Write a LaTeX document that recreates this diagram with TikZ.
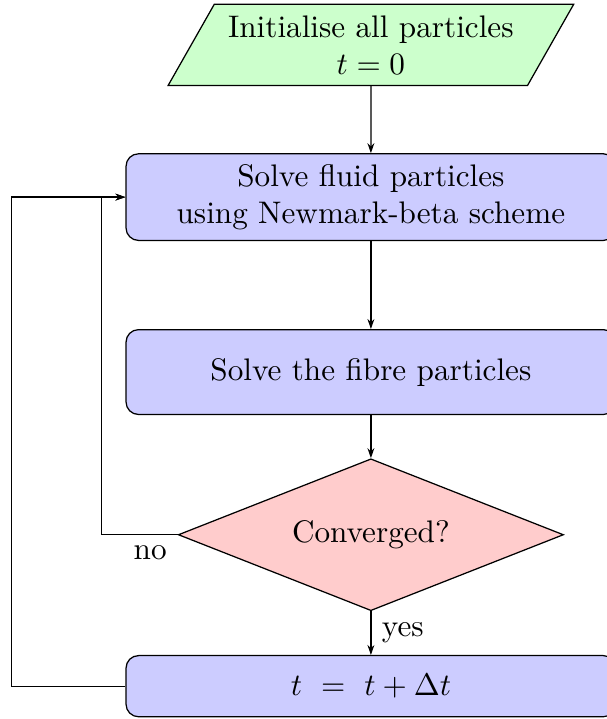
\documentclass[tikz,border=0pt]{standalone}
\usetikzlibrary{positioning,arrows.meta,shapes.geometric}
\begin{document}
\begin{tikzpicture}[
    node distance=28.2pt,
    io/.style={trapezium,trapezium left angle=60,trapezium right angle=120,
               trapezium stretches body,draw,minimum width=130pt,
               minimum height=26pt,align=center,fill=green!20},
    process/.style={rectangle,rounded corners,draw,
                  minimum width=157pt,minimum height=27.2pt,
                  align=center,fill=blue!20},
    decision/.style={diamond,draw,aspect=2.5,minimum width=123.5pt,
                  minimum height=48.7pt,align=center,fill=red!20},
    arrow/.style={-{Stealth[length=3.2pt,width=2.2pt]}}
]
\useasboundingbox (-118.9pt,14.4pt) rectangle (75.6pt,-216.1pt);
\node[io] (init) at (0,0) {Initialise all particles\\$t=0$};
\node[process,below=21.5pt of init] (fluid) {Solve fluid particles\\using Newmark-beta scheme};
\node[process,below=of fluid] (fibre) {Solve the fibre particles};
\node[decision,below=13.8pt of fibre] (conv) {Converged?};
\node[process,below=14pt of conv,minimum height=19.6pt] (tupd) {$t \ = \ t + \Delta t$};
\draw[arrow] (init) -- (fluid);
\draw[arrow] (fluid) -- (fibre);
\draw[arrow] (fibre) -- (conv);
\draw[arrow] (conv) -- node[right] {yes} (tupd);
\draw[arrow] (conv.west) node[below left] {no} -| ([xshift=-7.7pt]fluid.west) -- (fluid.west);
\draw[arrow] (tupd.west) -- ++(-36.5pt,0) |- (fluid.west);
\end{tikzpicture}
\end{document}
